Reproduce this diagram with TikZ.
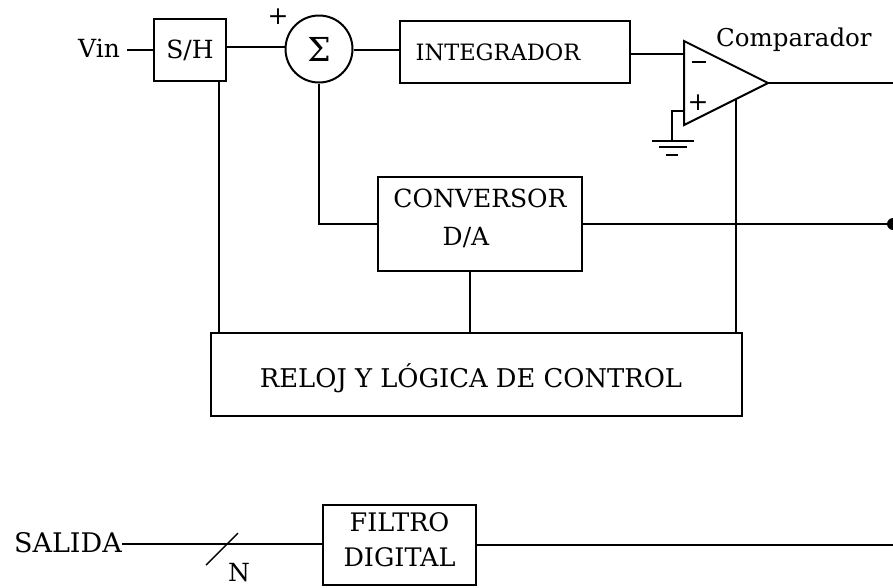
\documentclass[tikz,border=0pt]{standalone}
\usepackage{fontspec}
\setmainfont{DejaVu Serif}
\usetikzlibrary{calc}
\newcommand\placedtext[3]{\makebox[0pt]{\hspace*{#1}\raisebox{#2}[0pt][0pt]{\begin{tabular}{@{}c@{}}#3\end{tabular}}}}
\tikzset{
  wire/.style={line width=2pt,black},
  blockbox/.style={draw=black,line width=2pt,inner sep=0pt,font=\fontsize{25}{38}\selectfont},
  lbl/.style={inner sep=0pt,font=\fontsize{25}{30}\selectfont}
}
\begin{document}
\begin{tikzpicture}[x=1pt,y=-1pt]
\useasboundingbox (0,0) rectangle (893,587);
\node[blockbox,minimum width=72pt,minimum height=62pt] (sh) at (190,50) {S/H};
\node[blockbox,circle,minimum size=67pt,font=\fontsize{33}{38}\selectfont] (sum) at (319,49) {Σ};
\node[blockbox,minimum width=230pt,minimum height=62pt,font=\fontsize{22.5}{30}\selectfont] (int) at (515,52) {\placedtext{-34pt}{-8pt}{INTEGRADOR}};
\node[blockbox,minimum width=204pt,minimum height=94pt] (dac) at (480,224) {\placedtext{0pt}{-1pt}{CONVERSOR\\\hspace*{-28pt}D/A}};
\node[blockbox,minimum width=531pt,minimum height=83pt,font=\fontsize{25.8}{38}\selectfont] (ctl) at (476.5,374.5) {\placedtext{-11pt}{-11.5pt}{RELOJ Y LÓGICA DE CONTROL}};
\node[blockbox,minimum width=153pt,minimum height=80pt,font=\fontsize{25.5}{35}\selectfont] (fil) at (399.5,545) {\placedtext{0pt}{-3pt}{FILTRO\\DIGITAL}};
\node[lbl,anchor=west] (vin) at (78,48) {Vin};
\node[lbl] (plus) at (278,17) {+};
\node[lbl,anchor=west,font=\fontsize{24.5}{30}\selectfont] (cmp) at (716,40) {Comparador};
\node[lbl,anchor=east,font=\fontsize{27}{30}\selectfont] (sal) at (122,543) {SALIDA};
\node[lbl] (n) at (239,573) {N};
\node[lbl] (oppl) at (698,103) {+};
\coordinate (a1) at (684,41);
\coordinate (a2) at (684,125);
\coordinate (a3) at (768,83);
\draw[wire,line join=miter] (a1) -- (a3) -- (a2) -- cycle;
\draw[wire] (692,62) -- (706,62);
\coordinate (rO) at (893,83);
\coordinate (rD) at (893,224);
\coordinate (rF) at (893,545);
\coordinate (gnd) at (672,141);
\coordinate (opT) at (736,99);
\draw[wire] (a3) -- (rO);
\draw[wire] (127,50) -- (sh.west |- 0,50);
\draw[wire] (sh.east |- 0,47) -- (sum.west |- 0,47);
\draw[wire] (sum.east |- 0,50) -- (int.west |- 0,50);
\draw[wire] (int.east |- 0,54) -- (a1 |- 0,54);
\draw[wire] (684,111) -- (672,111) -- (gnd);
\draw[wire] (652,141) -- (694,141);
\draw[wire] (659,147) -- (687,147);
\draw[wire] (666,155) -- (678,155);
\draw[wire] (opT) -- (opT |- ctl.north);
\draw[wire] (219,81) -- (219,333);
\draw[wire] (sum.south) -- (sum.south |- dac.west) -- (dac.west);
\draw[wire] (dac.east) -- (rD);
\fill[black] (rD) circle (6pt);
\draw[wire] (dac.south -| 470,0) -- (ctl.north -| 470,0);
\draw[wire] (sal.east |- 0,544) -- (fil.west |- 0,544);
\draw[wire] (fil.east) -- (rF);
\draw[wire,line width=1.4pt] (206,565) -- (238,533);
\end{tikzpicture}
\end{document}
